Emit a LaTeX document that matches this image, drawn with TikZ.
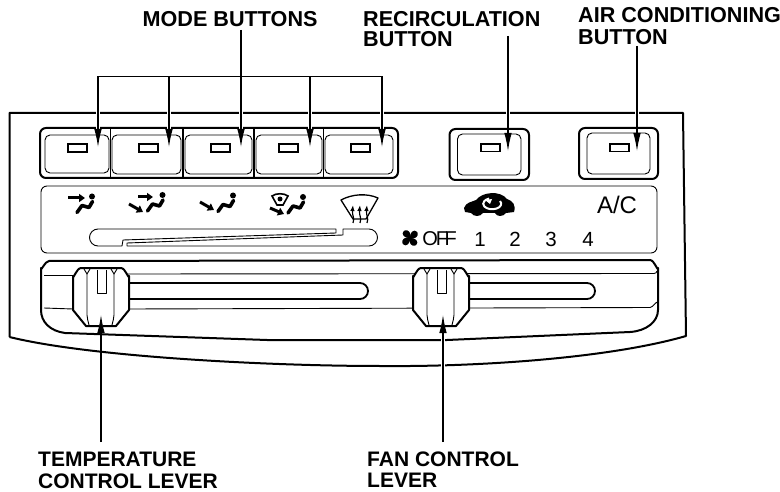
\documentclass[tikz,border=0pt]{standalone}
\usepackage{fontspec}
\setmainfont{Liberation Sans}
\usetikzlibrary{arrows.meta}
\tikzset{
  lab/.style={inner sep=0pt,anchor=west,font=\fontsize{21}{23}\selectfont\bfseries},
  labu/.style={lab,font=\fontsize{21.6}{23}\selectfont\bfseries},
  dig/.style={inner sep=0pt,font=\fontsize{20.5}{22}\selectfont},
  heavy/.style={line width=2pt,line join=round},
  mid/.style={line width=1.5pt,line join=round},
  thin line/.style={line width=0.9pt,line join=round},
  lamp/.style={line width=1.4pt,draw,fill=white},
  call/.style={line width=1.1pt,-{Latex[length=18pt,width=7.5pt]}},
  halo/.style={white,line width=5pt},
  iconarrow/.style={line width=3pt,-{Triangle[length=6pt,width=8pt]}}
}
\newcommand\personicon[1]{\begin{scope}[shift={#1}]
  \fill (0,0) circle (3);
  \draw[line width=3.6pt,line cap=round,line join=round] (-15,16) -- (-10,9) -- (-3,11) -- (0.5,5);
\end{scope}}
\newcommand\knob[1]{\begin{scope}[shift={#1}]
  \draw[heavy,fill=white] (0,18) -- (0,38) -- (0,42) -- (13,58) -- (43,58) -- (56,42) -- (56,8) to[out=-90,in=0] (48,0) -- (8,0) to[out=180,in=-90] (0,8) -- cycle;
  \draw[thin line] (14,6) -- (14,47) to[out=-90,in=100] (16,57);
  \draw[thin line] (41,6) -- (41,47) to[out=-90,in=80] (39,57);
  \draw[thin line] (11,1) -- (14,6) -- (17,1) (38,1) -- (41,6) -- (44,1);
  \draw[thin line] (24,2) -- (24,25) -- (33,25) -- (33,2);
\end{scope}}
\begin{document}
\begin{tikzpicture}[x=1pt,y=-1pt]
\useasboundingbox (0,0) rectangle (780,492);
% outer panel
\draw[heavy] (9.5,337) -- (9.5,113) -- (683,113) -- (686,336)
  .. controls (610,358) and (480,367) .. (380,366) .. controls (270,366) and (90,357) .. (9.5,337);
% mode button group
\draw[heavy,rounded corners=6pt] (40,128) rectangle (398,178);
\foreach \x in {110.5,183,254,323.5}{\draw[mid] (\x,128) -- (\x,178);}
\draw[thin line,rounded corners=5pt] (45,135) rectangle (109,173);
\draw[thin line,rounded corners=5pt] (112,135) rectangle (181,174);
\draw[thin line,rounded corners=5pt] (185,135) rectangle (252,174);
\draw[thin line,rounded corners=5pt] (256,135) rectangle (322,174);
\draw[thin line,rounded corners=5pt] (325,135) rectangle (393,174);
\foreach \x in {68,139,211,279,351}{\draw[lamp] (\x,144) rectangle ++(19,8);}
% recirculation and A/C buttons
\draw[heavy,rounded corners=6pt] (449.5,129) rectangle (529,180);
\draw[thin line,rounded corners=5pt] (457.5,134) rectangle (521,175);
\draw[lamp] (481,144) rectangle ++(19,7.5);
\draw[heavy,rounded corners=6pt] (579,128) rectangle (658,179);
\draw[thin line,rounded corners=5pt] (587,133) rectangle (650,174);
\draw[lamp] (610,144) rectangle ++(19,7.5);
% legend panel
\draw[thin line,rounded corners=6pt] (41,186) rectangle (657,253);
% legend slot
\draw[thin line] (336,229) -- (98,229) arc[start angle=270,end angle=90,radius=8.5] -- (122,246) -- (123,240) -- (336,233) -- cycle;
\draw[thin line] (343,229) -- (343,235) -- (127,243) -- (127,246) -- (369,246) arc[start angle=90,end angle=-90,radius=8.5] -- cycle;
% person icons
\personicon{(92,196.5)}
\personicon{(162.5,195)}
\personicon{(233,195.5)}
\personicon{(303,197)}
\draw[iconarrow] (68,198) -- (85,198);
\draw[iconarrow] (138,197) -- (153,197);
\draw[iconarrow] (129,204) -- (143,212);
\draw[iconarrow] (200,202) -- (214,210);
\draw[iconarrow] (270,208) -- (284,214);
\draw[line width=1.6pt,fill=white] (272,196) .. controls (276,193) and (284,193) .. (288,196) -- (283,205) -- (277,205) -- cycle;
\fill (280,199) circle (2.5);
% defrost icon
\draw[line width=1.3pt,line join=round] (341,200) .. controls (352,194) and (367,193) .. (378,198) -- (366,219) -- (353,219) -- cycle;
\foreach \x in {353,360,367}{
  \draw[line width=1.2pt,-{Latex[length=6pt,width=4.5pt]}] (\x,223) .. controls (\x+2,218) and (\x-1,216) .. (\x,205);}
% car icon
\fill (464,208) .. controls (466,202) and (472,202) .. (476,200) .. controls (482,192) and (500,190) .. (507,199) .. controls (513,201) and (516,205) .. (514,212) -- (506,213) .. controls (503,217) and (497,217) .. (495,213) -- (483,213) .. controls (480,217) and (474,217) .. (471,213) -- (465,212) -- cycle;
\draw[white,line width=2pt] (500,201) arc[start angle=-30,end angle=250,x radius=9,y radius=5.5];
\fill[white] (485,200) -- (492,199) -- (490,204) -- cycle;
% legend text
\node[inner sep=0pt,font=\fontsize{24}{26}\selectfont] (ac) at (617,205) {A/C};
\begin{scope}[shift={(410,238)}]
  \foreach \a in {20,110,200,290}{
    \fill[rotate=\a] (0,0) .. controls (1,-5) and (7,-8) .. (9,-3) .. controls (9,2) and (4,3) .. (0,0);}
\end{scope}
\node[inner sep=0pt,font=\fontsize{20}{22}\selectfont] (off) at (439.5,239) {O\kern-2pt F\kern-3.5pt F};
\node[dig] (d1) at (480,239) {1};
\node[dig] (d2) at (515,239) {2};
\node[dig] (d3) at (551,239) {3};
\node[dig] (d4) at (588,239) {4};
% slider panel
\draw[heavy] (41,310) -- (41,268) to[out=-90,in=180] (49,261) -- (650,260) to[out=0,in=-90] (658,268) -- (658,310)
  .. controls (658,322) and (646,331) .. (630,332) -- (447,340) -- (267,340) -- (65,333) .. controls (50,331) and (41,322) .. (41,310);
\draw[thin line] (44,275) -- (73,275);
\draw[thin line] (44,308) -- (73,309);
\draw[thin line] (128,274) -- (654,273.5) to[out=0,in=-90] (657,271);
\draw[thin line] (128,309) -- (650,307.5) to[out=0,in=90] (657,303);
% slots
\draw[mid,line width=1.8pt] (128,283) -- (360,283) arc[start angle=-90,end angle=90,radius=8] -- (128,299);
\draw[mid,line width=1.8pt] (470,283) -- (587,283) arc[start angle=-90,end angle=90,radius=8] -- (470,299);
\knob{(73,268)}
\knob{(413,268)}
% labels
\node[labu] (mode) at (142.5,19) {MODE BUTTONS};
\node[labu] (recirc) at (363,19) {RECIRCULATION};
\node[labu] (recircb) at (363,39) {BUTTON};
\node[labu] (air) at (578,15.5) {AIR CONDITIONING};
\node[labu] (airb) at (578,37.5) {BUTTON};
\node[lab] (temp) at (38,459) {TEMPERATURE};
\node[lab] (tempb) at (38,481) {CONTROL LEVER};
\node[lab] (fan) at (367,459) {FAN CONTROL};
\node[lab] (fanb) at (367,480) {LEVER};
% connectors
\coordinate (bar1) at (98,76.5);
\coordinate (bar5) at (382,76.5);
\draw[line width=1.1pt] (bar1) -- (bar5);
\coordinate (mtop) at (241,30);
\foreach \n/\x in {a/98,b/169,c/241,d/310,e/382}{
  \coordinate (t\n) at (\x,147);
  \coordinate (s\n) at (\x,76.5);
  \draw[halo,line width=4pt] (\x,110) -- (\x,116);
  \draw[halo,line width=4pt] (\x,125.5) -- (\x,130.5);
  \draw[call] (s\n) -- (t\n);}
\draw[line width=1.1pt] (mtop) -- (sc);
\coordinate (rs) at (508,36);
\coordinate (rt) at (508,151);
\coordinate (as) at (637,46);
\coordinate (at) at (637,151);
\draw[halo,line width=4pt] (508,110) -- (508,116);
\draw[halo,line width=4pt] (637,110) -- (637,116);
\draw[call] (rs) -- (rt);
\draw[call] (as) -- (at);
\coordinate (ts) at (101,442);
\coordinate (tt) at (101,315);
\coordinate (fs) at (443,442);
\coordinate (ft) at (443,315);
\foreach \x/\y in {101/327,101/339,101/356,443/327,443/340,443/366}{
  \draw[halo,line width=4.5pt] (\x,\y-3.5) -- (\x,\y+3.5);}
\draw[call] (ts) -- (tt);
\draw[call] (fs) -- (ft);
\end{tikzpicture}
\end{document}
